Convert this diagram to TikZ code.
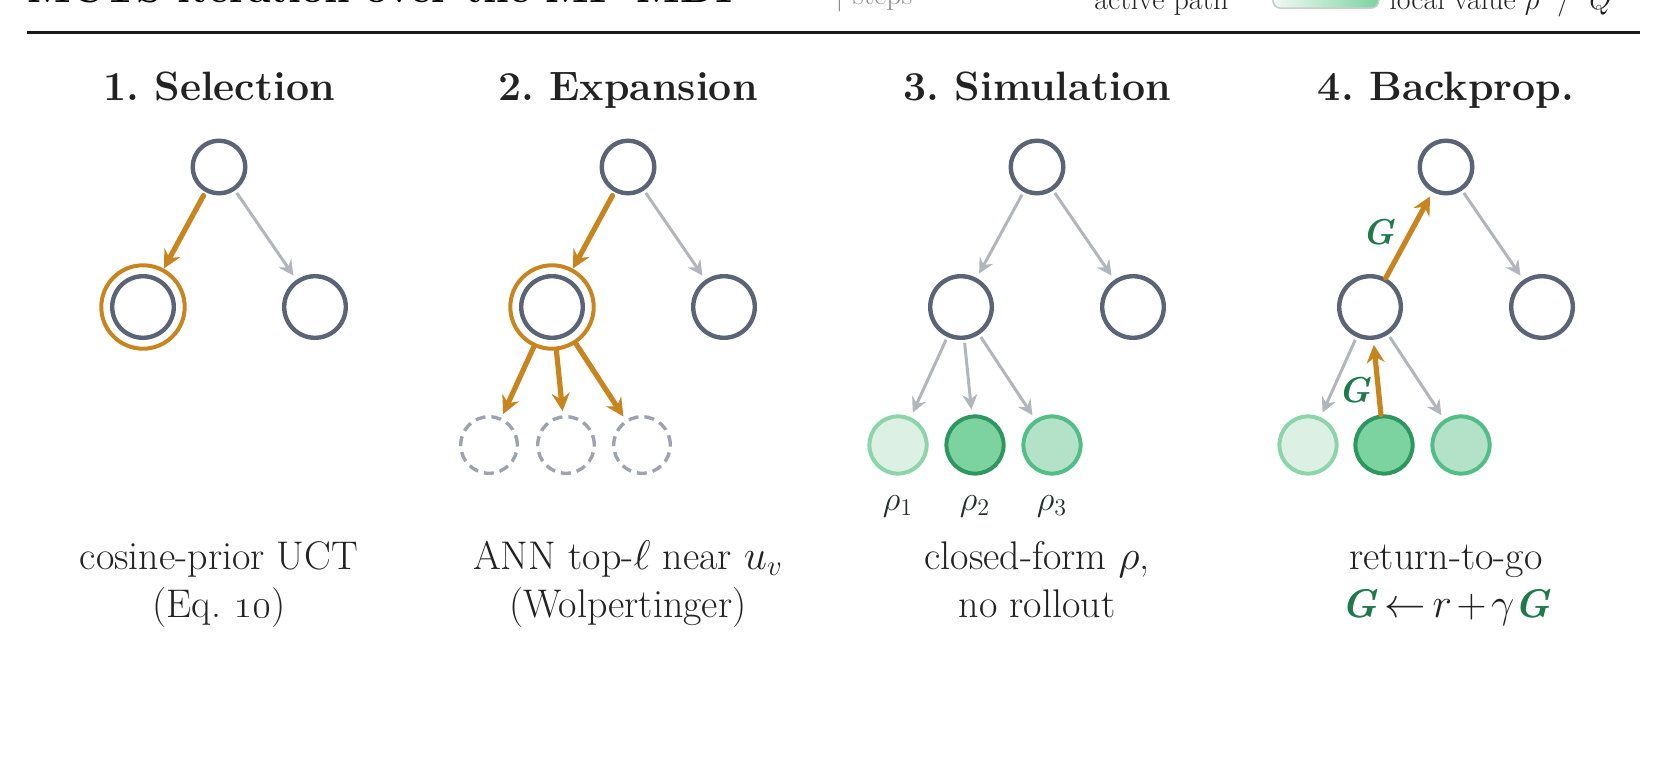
\documentclass[tikz,border=0pt]{standalone}
\usetikzlibrary{arrows.meta}
\definecolor{slate}{RGB}{90,100,117}
\definecolor{ash}{RGB}{177,181,188}
\definecolor{ochre}{RGB}{200,132,30}
\definecolor{dashgray}{RGB}{156,163,175}
\definecolor{pine}{RGB}{30,122,74}
\definecolor{inkgray}{RGB}{34,34,34}
\definecolor{leafAfill}{RGB}{221,240,228}
\definecolor{leafAline}{RGB}{140,212,170}
\definecolor{leafBfill}{RGB}{125,211,160}
\definecolor{leafBline}{RGB}{46,150,95}
\definecolor{leafCfill}{RGB}{179,226,200}
\definecolor{leafCline}{RGB}{82,190,135}
\begin{document}
\begin{tikzpicture}[x=0.5pt,y=-0.5pt,
  rootc/.style={circle,draw=slate,line width=2.2pt,minimum size=26.3pt,inner sep=0pt},
  kidc/.style={circle,draw=slate,line width=2.2pt,minimum size=30.8pt,inner sep=0pt},
  ringc/.style={circle,draw=ochre,line width=2pt,minimum size=41.7pt,inner sep=0pt},
  ghostc/.style={circle,draw=dashgray,line width=1.7pt,dash pattern=on 5pt off 3pt,minimum size=28.3pt,inner sep=0pt},
  leafa/.style={circle,draw=leafAline,fill=leafAfill,line width=2pt,minimum size=28.6pt,inner sep=0pt},
  leafb/.style={circle,draw=leafBline,fill=leafBfill,line width=2pt,minimum size=28.6pt,inner sep=0pt},
  leafc/.style={circle,draw=leafCline,fill=leafCfill,line width=2pt,minimum size=28.6pt,inner sep=0pt},
  edge/.style={draw=ash,line width=1.5pt,-{Stealth[length=7.5pt,width=7.5pt,inset=2.5pt]},shorten <=1.5pt,shorten >=2.5pt},
  pick/.style={draw=ochre,line width=2.6pt,line cap=round,-{Stealth[length=9pt,width=9pt,inset=3pt]}},
  headtxt/.style={anchor=base,text=inkgray,font=\fontsize{20.5}{24}\selectfont\bfseries},
  captxt/.style={anchor=base,text=inkgray,font=\fontsize{20}{24}\selectfont},
  rhotxt/.style={anchor=base,text=inkgray!85!pine,font=\fontsize{18}{20}\selectfont},
  gtxt/.style={text=pine,font=\fontsize{18}{20}\selectfont\bfseries\itshape}]
\useasboundingbox (0,0) rectangle (1673,770);
% strip along the top, cut by the page edge
\node[anchor=base west,inner sep=0pt,text=black,font=\fontsize{20.5}{24}\selectfont\bfseries] (title) at (27,3) {MCTS iteration over the MP-MDP};
\node[anchor=base west,inner sep=0pt,text=black!45,font=\fontsize{15}{18}\selectfont] (stepkey) at (835,5) {| steps};
\node[anchor=base west,inner sep=0pt,text=inkgray,font=\fontsize{15}{18}\selectfont] (pathkey) at (1094,10) {active path};
\node[anchor=south west,inner sep=0pt,minimum width=53pt,minimum height=16pt,rounded corners=4pt,draw=black!20,line width=0.8pt,left color=leafAfill!40,right color=leafBfill] (swatch) at (1272,9) {};
\node[anchor=base west,inner sep=0pt,text=inkgray,font=\fontsize{15}{18}\selectfont] (valkey) at (1389,10) {local value $\rho$\ \ /\ \ $Q$};
\draw[line width=1.5pt,black!90] (27,33) -- (1640,33);
\node[headtxt] (h1) at (219,101) {1.\ Selection};
\node[headtxt] (h2) at (628,101) {2.\ Expansion};
\node[headtxt] (h3) at (1037,101) {3.\ Simulation};
\node[headtxt] (h4) at (1446,101) {4.\ Backprop.};
% 1
\node[rootc] (s1r) at (219,167) {};
\node[kidc] (s1a) at (143,307) {};
\node[kidc] (s1b) at (315,307) {};
\node[ringc] (s1ring) at (143,307) {};
\draw[pick,shorten <=2pt] (s1r) -- (s1ring);
\draw[edge] (s1r) -- (s1b);
% 2
\node[rootc] (s2r) at (628,167) {};
\node[kidc] (s2a) at (552,307) {};
\node[kidc] (s2b) at (724,307) {};
\node[ringc] (s2ring) at (552,307) {};
\node[ghostc] (s2x) at (489,445) {};
\node[ghostc] (s2y) at (566,445) {};
\node[ghostc] (s2z) at (642,445) {};
\draw[pick,shorten <=2pt] (s2r) -- (s2ring);
\draw[edge] (s2r) -- (s2b);
\draw[pick,shorten >=2pt] (s2ring) -- (s2x);
\draw[pick,shorten >=2pt] (s2ring) -- (s2y);
\draw[pick,shorten >=2pt] (s2ring) -- (s2z);
% 3
\node[rootc] (s3r) at (1037,167) {};
\node[kidc] (s3a) at (961,307) {};
\node[kidc] (s3b) at (1133,307) {};
\node[leafa] (s3x) at (898,445) {};
\node[leafb] (s3y) at (975,445) {};
\node[leafc] (s3z) at (1052,445) {};
\draw[edge] (s3r) -- (s3a);
\draw[edge] (s3r) -- (s3b);
\draw[edge] (s3a) -- (s3x);
\draw[edge] (s3a) -- (s3y);
\draw[edge] (s3a) -- (s3z);
\node[rhotxt] (rho1) at (898,510) {$\rho_1$};
\node[rhotxt] (rho2) at (975,510) {$\rho_2$};
\node[rhotxt] (rho3) at (1052,510) {$\rho_3$};
% 4
\node[rootc] (s4r) at (1446,167) {};
\node[kidc] (s4a) at (1370,307) {};
\node[kidc] (s4b) at (1542,307) {};
\node[leafa] (s4x) at (1308,445) {};
\node[leafb] (s4y) at (1384,445) {};
\node[leafc] (s4z) at (1461,445) {};
\draw[edge] (s4r) -- (s4b);
\draw[edge] (s4a) -- (s4x);
\draw[edge] (s4a) -- (s4z);
\draw[pick,shorten >=2.5pt] (s4y) -- (s4a);
\draw[pick,shorten >=2.5pt] (s4a) -- (s4r);
\node[gtxt] (g1) at (1379,232) {G};
\node[gtxt] (g2) at (1355,390) {G};
% captions
\node[captxt] (c1a) at (219,569) {cosine-prior UCT};
\node[captxt] (c1b) at (219,617) {(Eq.~\oldstylenums{10})};
\node[captxt] (c2a) at (628,569) {ANN top-$\ell$ near $u_v$};
\node[captxt] (c2b) at (628,617) {(Wolpertinger)};
\node[captxt] (c3a) at (1037,569) {closed-form $\rho$,};
\node[captxt] (c3b) at (1037,617) {no rollout};
\node[captxt] (c4a) at (1446,569) {return-to-go};
\node[captxt] (c4b) at (1446,617) {\medmuskip=2mu\thickmuskip=3mu\textcolor{pine}{\bfseries\itshape G}\,$\leftarrow r + \gamma$\textcolor{pine}{\bfseries\itshape G}};
\end{tikzpicture}
\end{document}
